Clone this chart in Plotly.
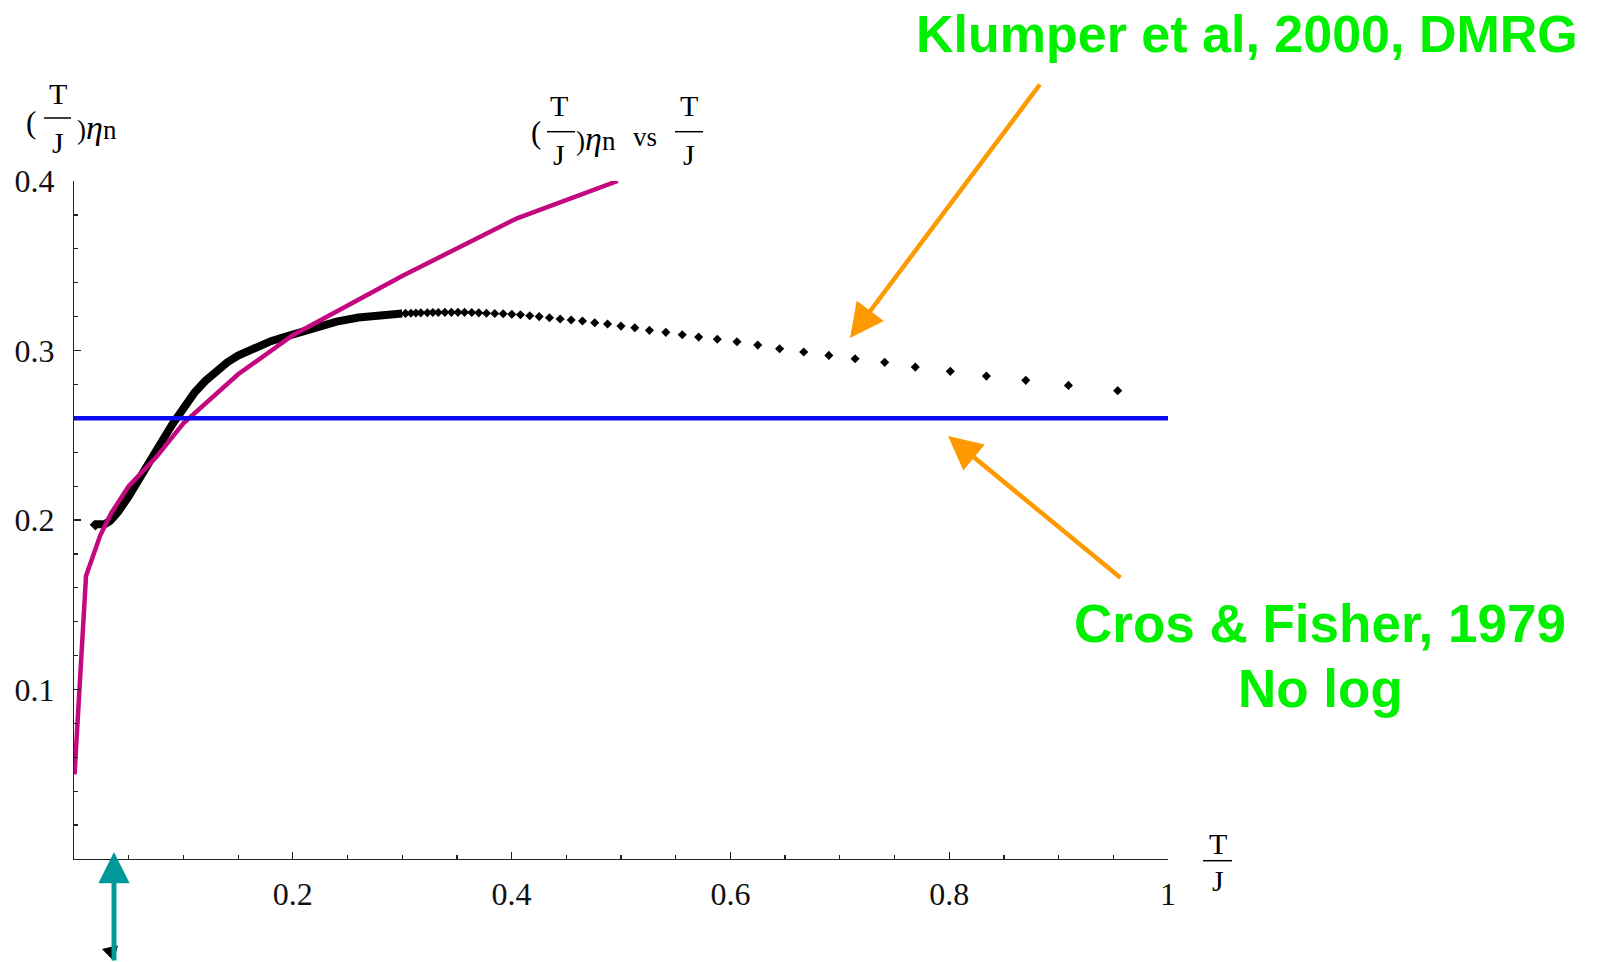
import plotly.graph_objects as go

# ---------------- data ----------------
# dense low-temperature part of the DMRG points (drawn as a thick band)
dense_T = [0.017, 0.020, 0.024, 0.028, 0.033, 0.040, 0.050, 0.060, 0.070, 0.080,
           0.090, 0.100, 0.110, 0.120, 0.130, 0.140, 0.150, 0.160, 0.170, 0.180,
           0.190, 0.200, 0.220, 0.240, 0.260, 0.280, 0.300]
dense_eta = [0.1955, 0.1975, 0.1975, 0.1975, 0.1995, 0.2045, 0.2140, 0.2240, 0.2345, 0.2460,
             0.2565, 0.2665, 0.2750, 0.2820, 0.2880, 0.2930, 0.2970, 0.3000, 0.3030, 0.3055,
             0.3075, 0.3095, 0.3140, 0.3170, 0.3195, 0.3210, 0.3218]

# individually visible DMRG points (Klumper et al, 2000)
dot_T = [0.303, 0.308, 0.3125, 0.317, 0.323, 0.328, 0.333, 0.339, 0.345, 0.351,
         0.357, 0.3636, 0.370, 0.377, 0.3846, 0.3923, 0.4002, 0.4081, 0.4166, 0.4252,
         0.4346, 0.4444, 0.4545, 0.4648, 0.476, 0.4877, 0.500, 0.5126, 0.526, 0.541,
         0.556, 0.571, 0.588, 0.606, 0.625, 0.645, 0.667, 0.690, 0.714, 0.741,
         0.769, 0.801, 0.834, 0.870, 0.909, 0.954]
dot_eta = [0.3219, 0.3220, 0.3221, 0.3222, 0.3223, 0.3224, 0.3224, 0.3225, 0.3225, 0.3225,
           0.3225, 0.3224, 0.3222, 0.3220, 0.3218, 0.3217, 0.3214, 0.3211, 0.3205, 0.3200,
           0.3193, 0.3186, 0.3180, 0.3174, 0.3164, 0.3156, 0.3144, 0.3134, 0.3119, 0.3107,
           0.3093, 0.3079, 0.3066, 0.3052, 0.3032, 0.3010, 0.2991, 0.2971, 0.2951, 0.2930,
           0.2902, 0.2877, 0.2849, 0.2824, 0.2794, 0.2763]

# magenta curve
mag_T = [0.0005, 0.011, 0.024, 0.034, 0.050, 0.075, 0.100, 0.150, 0.200, 0.300, 0.405, 0.497]
mag_eta = [0.050, 0.167, 0.191, 0.204, 0.220, 0.237, 0.257, 0.286, 0.309, 0.344, 0.378, 0.400]

# Cros & Fisher constant
cf_T = [0.0, 1.0]
cf_value = 0.26

x_ticks = [0.2, 0.4, 0.6, 0.8, 1.0]
x_ticktext = ["0.2", "0.4", "0.6", "0.8", "1"]
y_ticks = [0.1, 0.2, 0.3, 0.4]
y_ticktext = ["0.1", "0.2", "0.3", "0.4"]

# ---------------- layout geometry (page pixels) ----------------
W, H = 1602, 962
PLOT_X0, PLOT_X1 = 74, 1168  # page pixels of x = 0 and x = 1
PLOT_Y0, PLOT_Y1 = 181, 859  # page pixels of y = 0.4 and y = 0
L = PLOT_X0
T = PLOT_Y0
R = W - PLOT_X1
B = H - PLOT_Y1
PW = PLOT_X1 - PLOT_X0
PH = PLOT_Y1 - PLOT_Y0


def px(x):
    return (x - PLOT_X0) / PW


def py(y):
    return (PLOT_Y1 - y) / PH


SERIF = "Liberation Serif"
SANS = "Liberation Sans"

fig = go.Figure()
fig.add_trace(go.Scatter(x=dense_T, y=dense_eta, mode="lines",
                         line=dict(color="black", width=8), hoverinfo="skip"))
fig.add_trace(go.Scatter(x=dot_T, y=dot_eta, mode="markers",
                         marker=dict(symbol="diamond", size=7, color="black")))
fig.add_trace(go.Scatter(x=mag_T, y=mag_eta, mode="lines",
                         line=dict(color="#C4087F", width=4.5)))
fig.add_trace(go.Scatter(x=cf_T, y=[cf_value] * len(cf_T), mode="lines",
                         line=dict(color="#0A0AF5", width=4.5)))

annotations = []


def txt(s, x, y, size, xanchor="center", font=SERIF, color="black"):
    annotations.append(dict(text=s, x=px(x), y=py(y), xref="paper", yref="paper",
                            xanchor=xanchor, yanchor="middle", showarrow=False,
                            font=dict(family=font, size=size, color=color)))


shapes = []


def bar(x0, x1, y):
    shapes.append(dict(type="line", xref="paper", yref="paper",
                       x0=px(x0), x1=px(x1), y0=py(y), y1=py(y),
                       line=dict(color="black", width=1.5)))


def arrow(tipx, tipy, tailx, taily, color, width, size):
    annotations.append(dict(text="", x=px(tipx), y=py(tipy), xref="paper", yref="paper",
                            ax=tailx - tipx, ay=taily - tipy, showarrow=True,
                            arrowhead=2, arrowsize=size, arrowwidth=width,
                            arrowcolor=color, standoff=0))


ETA = "<span style='font-size:34px'><i>η</i></span>"

# y-axis title  (T/J) eta_n
txt("(", 31, 122, 31)
txt("T", 57.5, 94, 30)
bar(44, 71, 118)
txt("J", 57.5, 142, 30)
txt(")" + ETA + "n", 75, 127, 27, xanchor="left")

# plot title  (T/J) eta_n vs T/J
txt("(", 536, 133, 31)
txt("T", 559, 106, 30)
bar(547, 575, 131.7)
txt("J", 559, 154, 30)
txt(")" + ETA + "n", 574, 139, 27, xanchor="left")
txt("vs", 645, 137, 27)
txt("T", 689, 106, 30)
bar(675, 703, 131.7)
txt("J", 689, 154, 30)

# x-axis title T/J
txt("T", 1218, 843, 30)
bar(1203, 1232, 860.7)
txt("J", 1218, 881, 30)

# green labels
txt("<b>Klumper et al, 2000, DMRG</b>", 1246.5, 34, 52, font=SANS, color="#00F000")
txt("<b>Cros &amp; Fisher, 1979</b>", 1319.5, 623, 53, font=SANS, color="#00F000")
txt("<b>No log</b>", 1320, 688, 53, font=SANS, color="#00F000")

# arrows
arrow(850, 338, 1041, 83, "#FF9900", 4.5, 1.5)
arrow(948, 436, 1122, 579, "#FF9900", 4.5, 1.5)
arrow(114, 852, 114, 975, "#009999", 5, 1.25)

# small black arrow head at the bottom
shapes.append(dict(type="path", xref="paper", yref="paper",
                   path=f"M {px(102.7)} {py(949.3)} L {px(117.3)} {py(946)} L {px(113.3)} {py(960)} Z",
                   fillcolor="black", line=dict(color="black", width=1)))

axis_common = dict(showgrid=False, zeroline=False, showline=True, linecolor="#222222",
                   linewidth=1.2, ticks="inside", ticklen=7, tickwidth=1.2, tickcolor="#222222",
                   tickfont=dict(family=SERIF, size=32, color="#111111"), mirror=False,
                   automargin=False)

fig.update_layout(
    width=W, height=H,
    margin=dict(l=L, r=R, t=T, b=B, pad=0, autoexpand=False),
    paper_bgcolor="white", plot_bgcolor="white",
    showlegend=False,
    hovermode=False,
    xaxis=dict(range=[0, 1], tickvals=x_ticks, ticktext=x_ticktext,
               ticklabelstandoff=6,
               minor=dict(ticks="inside", ticklen=4, dtick=0.05, tick0=0,
                          tickcolor="#222222", showgrid=False),
               **axis_common),
    yaxis=dict(range=[0, 0.4], tickvals=y_ticks, ticktext=y_ticktext,
               ticklabelstandoff=12,
               minor=dict(ticks="inside", ticklen=4, dtick=0.02, tick0=0,
                          tickcolor="#222222", showgrid=False),
               **axis_common),
    annotations=annotations,
    shapes=shapes,
)

fig.write_html("out.html",
               config={"displayModeBar": False, "staticPlot": True},
               post_script="document.body.style.margin='0';document.body.style.overflow='hidden';")
